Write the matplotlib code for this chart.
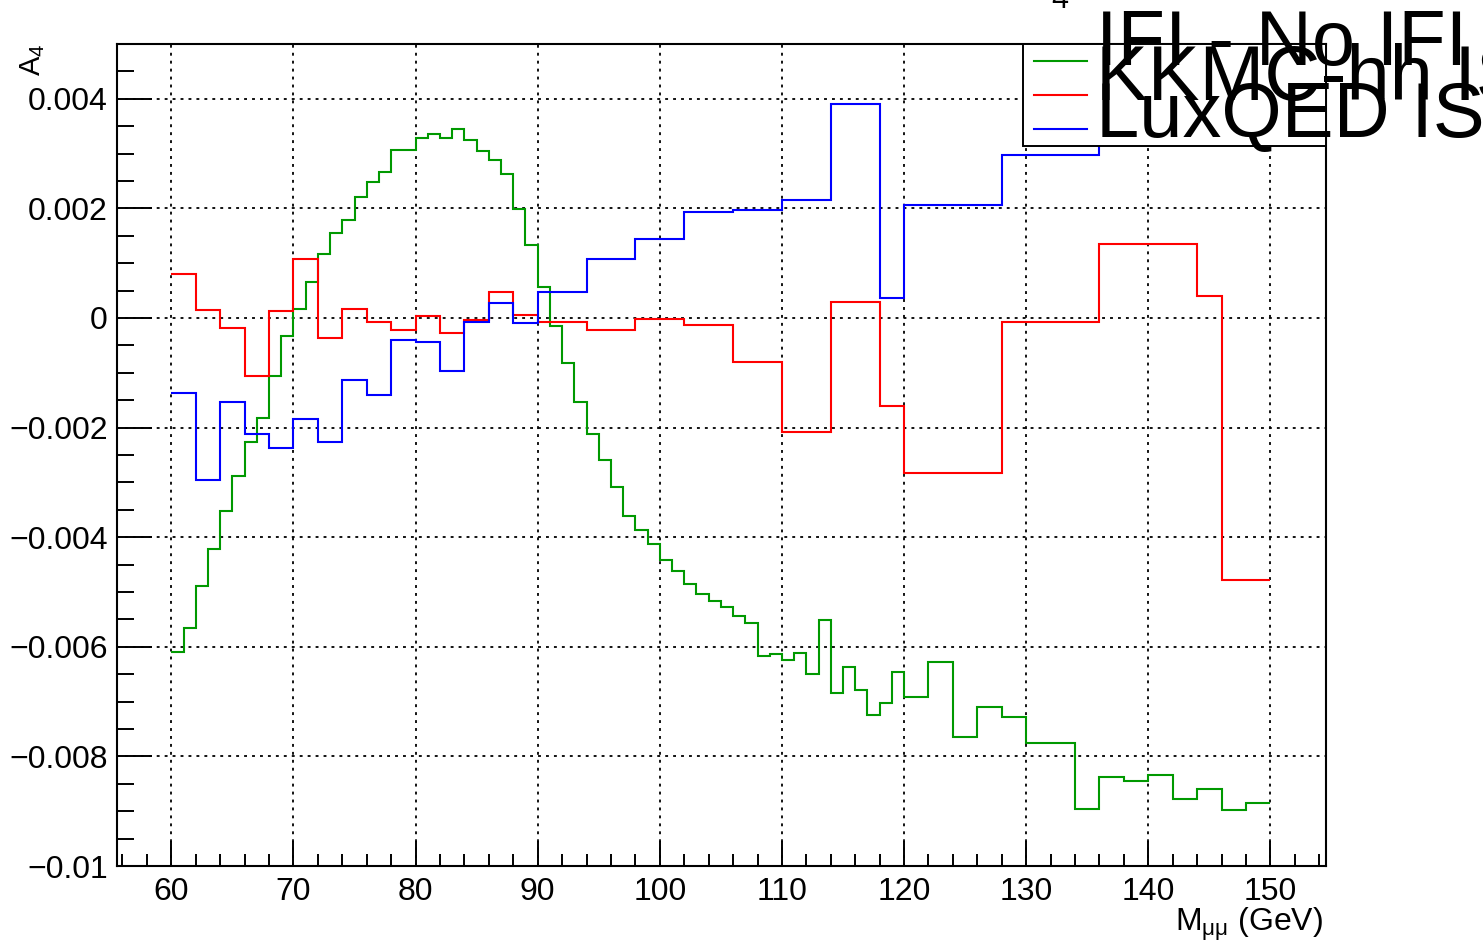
import matplotlib
matplotlib.use("Agg")
import matplotlib.pyplot as plt
from matplotlib.patches import Rectangle
from matplotlib.ticker import MultipleLocator, FuncFormatter

plt.rcParams['font.family'] = ['Liberation Sans', 'DejaVu Sans']
plt.rcParams['mathtext.fontset'] = 'custom'
plt.rcParams['mathtext.rm'] = 'Liberation Sans'
plt.rcParams['mathtext.it'] = 'Liberation Sans:italic'
plt.rcParams['mathtext.default'] = 'regular'

# ---- binning ----
fine_edges = list(range(60, 121)) + list(range(122, 151, 2))
coarse_edges = list(range(60, 91, 2)) + [94, 98, 102, 106, 110, 114, 118,
                                         120, 128, 136, 144, 146, 150]

# ---- A4 difference per bin ----
ifi_diff = [
    -0.00610, -0.00565, -0.00489, -0.00422, -0.00352, -0.00289, -0.00226, -0.00182,
    -0.00105, -0.00032, 0.00017, 0.00065, 0.00117, 0.00155, 0.00179, 0.00220,
    0.00248, 0.00267, 0.00306, 0.00306, 0.00329, 0.00336, 0.00328, 0.00345,
    0.00325, 0.00304, 0.00288, 0.00262, 0.00198, 0.00133, 0.00057, -0.00014,
    -0.00083, -0.00153, -0.00212, -0.00259, -0.00308, -0.00361, -0.00387, -0.00412,
    -0.00442, -0.00462, -0.00486, -0.00504, -0.00516, -0.00528, -0.00544, -0.00556,
    -0.00616, -0.00613, -0.00624, -0.00611, -0.00650, -0.00552, -0.00684, -0.00637,
    -0.00678, -0.00725, -0.00702, -0.00646,
    -0.00691, -0.00627, -0.00764, -0.00709, -0.00729, -0.00775, -0.00776, -0.00896,
    -0.00837, -0.00844, -0.00834, -0.00878, -0.00859, -0.00897, -0.00885,
]
kkmc_isr = [
    0.00080, 0.00015, -0.00018, -0.00105, 0.00012, 0.00107, -0.00036, 0.00016,
    -0.00008, -0.00021, 0.00004, -0.00027, -0.00004, 0.00047, 0.00006,
    -0.00008, -0.00021, -0.00001, -0.00012, -0.00080, -0.00208, 0.00030,
    -0.00161, -0.00283, -0.00007, 0.00135, 0.00041, -0.00479,
]
luxqed_isr = [
    -0.00137, -0.00295, -0.00154, -0.00211, -0.00237, -0.00185, -0.00226, -0.00113,
    -0.00141, -0.00040, -0.00044, -0.00096, -0.00008, 0.00027, -0.00009,
    0.00047, 0.00107, 0.00145, 0.00193, 0.00197, 0.00215, 0.00390,
    0.00037, 0.00206, 0.00297, 0.00400, 0.00370, 0.00420,
]

legend_labels = ["IFI - No IFI", "KKMC-hh ISR", "LuxQED ISR"]
colors = ["#009900", "#ff0000", "#0000ff"]

fig = plt.figure(figsize=(14.83, 9.42), dpi=100)
ax = fig.add_axes([117 / 1483, 1 - 866 / 942, 1209 / 1483, 822 / 942])

series = [(ifi_diff, fine_edges), (kkmc_isr, coarse_edges), (luxqed_isr, coarse_edges)]
for (vals, edges), c in zip(series, colors):
    ax.stairs(vals, edges, baseline=None, color=c, lw=1.5, zorder=3)

ax.set_xlim(55.55, 154.55)
ax.set_ylim(-0.01, 0.005)

ax.xaxis.set_major_locator(MultipleLocator(10))
ax.xaxis.set_minor_locator(MultipleLocator(2))
ax.yaxis.set_major_locator(MultipleLocator(0.002))
ax.yaxis.set_minor_locator(MultipleLocator(0.0005))


def yfmt(v, pos):
    v = round(v, 6)
    if abs(v) < 1e-12:
        return "0"
    return f"{v:g}".replace("-", "\u2212")


ax.yaxis.set_major_formatter(FuncFormatter(yfmt))

ax.tick_params(axis='both', which='both', direction='in', width=1.4, colors='black',
               top=False, right=False)
ax.tick_params(axis='y', which='major', length=25, labelsize=23, pad=6.5)
ax.tick_params(axis='y', which='minor', length=12.5)
ax.tick_params(axis='x', which='major', length=18, labelsize=23, pad=8)
ax.tick_params(axis='x', which='minor', length=9)

for s in ax.spines.values():
    s.set_linewidth(1.5)
    s.set_color('black')

ax.grid(True, which='major', color='black', linestyle=(0, (1.6, 2.8)), linewidth=1.3)
ax.set_axisbelow(True)

ax.set_ylabel("A$_{4}$", fontsize=21, loc='top')
ax.yaxis.set_label_coords(-0.058, 1.0)
ax.set_xlabel("M$_{\\mathrm{μμ}}$ (GeV)", fontsize=23, loc='right')
ax.xaxis.set_label_coords(0.9975, -0.049)

# legend box
ax.add_patch(Rectangle((0.7491, 0.8763), 0.2509, 0.1237, transform=ax.transAxes,
                       facecolor='white', edgecolor='black', lw=1.4, zorder=10,
                       clip_on=False))
line_y = [0.9793, 0.9380, 0.8966]
text_y = [0.9745, 0.9319, 0.8869]
for lab, c, ly, ty in zip(legend_labels, colors, line_y, text_y):
    ax.plot([0.7585, 0.8023], [ly, ly], transform=ax.transAxes, color=c, lw=1.5,
            zorder=11, clip_on=False)
    ax.text(0.8095, ty, lab, transform=ax.transAxes, fontsize=56, va='baseline',
            ha='left', zorder=12, clip_on=False)

fig.text(1060 / 1483, 1 - 8.5 / 942, "4", fontsize=22, ha='center', va='baseline')

fig.savefig("out.png", dpi=100)
